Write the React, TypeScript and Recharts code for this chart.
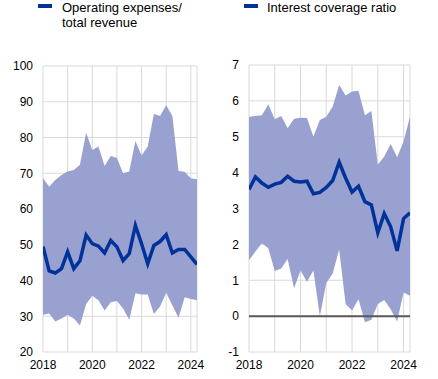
import React from 'react';
import {
  ComposedChart,
  Area,
  Line,
  XAxis,
  YAxis,
  CartesianGrid,
  ReferenceLine,
} from 'recharts';

// quarterly periods, 2018 Q1 - 2024 Q2
const quarters = [
  '2018Q1', '2018Q2', '2018Q3', '2018Q4',
  '2019Q1', '2019Q2', '2019Q3', '2019Q4',
  '2020Q1', '2020Q2', '2020Q3', '2020Q4',
  '2021Q1', '2021Q2', '2021Q3', '2021Q4',
  '2022Q1', '2022Q2', '2022Q3', '2022Q4',
  '2023Q1', '2023Q2', '2023Q3', '2023Q4',
  '2024Q1', '2024Q2',
];

// operating expenses / total revenue (%)
const opexMedian = [
  49.5, 42.7, 42.1, 43.3, 48.0, 43.3, 45.5, 52.7, 50.3, 49.6, 47.7, 51.2, 49.4,
  45.6, 47.5, 55.4, 50.3, 44.7, 49.8, 50.9, 52.8, 47.7, 48.7, 48.7, 46.6, 44.5,
];
const opexLow = [
  30.4, 30.8, 28.5, 29.4, 30.4, 29.4, 27.4, 33.4, 35.7, 34.5, 31.6, 33.9, 34.3,
  32.2, 29.0, 36.4, 36.1, 36.1, 30.6, 32.7, 36.6, 33.1, 29.6, 35.3, 34.8, 34.5,
];
const opexHigh = [
  68.6, 66.2, 68.1, 69.5, 70.5, 70.9, 72.4, 81.3, 76.5, 77.5, 72.0, 74.8, 74.3,
  70.0, 70.5, 79.0, 75.0, 77.5, 86.6, 86.0, 89.0, 86.0, 70.6, 70.4, 68.6, 68.3,
];

// interest coverage ratio
const icrMedian = [
  3.53, 3.88, 3.71, 3.59, 3.68, 3.73, 3.9, 3.76, 3.74, 3.76, 3.41, 3.45, 3.59,
  3.78, 4.29, 3.85, 3.46, 3.62, 3.19, 3.1, 2.32, 2.86, 2.49, 1.82, 2.72, 2.88,
];
const icrLow = [
  1.56, 1.8, 2.03, 1.89, 1.26, 1.33, 1.59, 0.78, 1.27, 0.96, 1.27, 0.0, 0.92,
  1.19, 1.86, 0.34, 0.16, 0.47, -0.17, -0.1, 0.34, 0.45, 0.19, -0.15, 0.66, 0.57,
];
const icrHigh = [
  5.56, 5.58, 5.6, 5.9, 5.49, 5.58, 5.24, 5.5, 5.53, 5.52, 5.0, 5.47, 5.56,
  5.84, 6.44, 6.15, 6.26, 6.28, 5.6, 5.72, 4.22, 4.45, 4.8, 4.43, 4.87, 5.56,
];

const yearTicks = [2018, 2019, 2020, 2021, 2022, 2023, 2024];
const yearLabels = [2018, 2020, 2022, 2024];
const opexTicks = [20, 30, 40, 50, 60, 70, 80, 90, 100];
const icrTicks = [-1, 0, 1, 2, 3, 4, 5, 6, 7];

const BLUE = '#003299';
const BAND = '#98a1d0';
const GRID = '#d9d9d9';
const FONT = '"Liberation Sans", Arial, sans-serif';

const toYear = (q: string) => Number(q.slice(0, 4)) + (Number(q.slice(5)) - 1) / 4;

const buildRows = (median: number[], low: number[], high: number[]) =>
  quarters.map((q, i) => ({
    t: toYear(q),
    median: median[i],
    band: [low[i], high[i]],
  }));

type PanelProps = {
  rows: { t: number; median: number; band: number[] }[];
  ticks: number[];
  yAxisWidth: number;
  marginTop: number;
  marginRight: number;
  zeroLine?: boolean;
};

const Panel: React.FC<PanelProps> = ({ rows, ticks, yAxisWidth, marginTop, marginRight, zeroLine }) => (
  <ComposedChart
    width={219}
    height={379}
    data={rows}
    margin={{ top: marginTop, right: marginRight, bottom: 7, left: 0 }}
  >
    <CartesianGrid stroke={GRID} strokeWidth={1} />
    <XAxis
      dataKey="t"
      type="number"
      domain={[2018, 2024.25]}
      ticks={yearTicks}
      interval={0}
      tickFormatter={(v: number) => (yearLabels.includes(v) ? String(v) : '')}
      axisLine={false}
      tickLine={false}
      height={20}
      tick={{ fill: '#000', fontSize: 12, fontFamily: FONT }}
      allowDataOverflow
    />
    <YAxis
      type="number"
      domain={[ticks[0], ticks[ticks.length - 1]]}
      ticks={ticks}
      interval={0}
      width={yAxisWidth}
      axisLine={false}
      tickLine={false}
      tickMargin={4}
      tick={{ fill: '#000', fontSize: 12, fontFamily: FONT }}
    />
    <Area
      dataKey="band"
      type="linear"
      stroke="none"
      fill={BAND}
      fillOpacity={1}
      isAnimationActive={false}
    />
    {zeroLine && <ReferenceLine y={0} stroke="#595959" strokeWidth={2} />}
    <Line
      dataKey="median"
      type="linear"
      stroke={BLUE}
      strokeWidth={3.5}
      dot={false}
      isAnimationActive={false}
    />
  </ComposedChart>
);

const legendText: React.CSSProperties = {
  position: 'absolute',
  top: 1,
  fontSize: 13,
  lineHeight: '14.5px',
  fontFamily: FONT,
  color: '#000',
};

const marker = (left: number): React.CSSProperties => ({
  position: 'absolute',
  left,
  top: 4,
  width: 14,
  height: 4,
  background: BLUE,
});

export default function App() {
  return (
    <div style={{ position: 'absolute', left: 0, top: 0, width: 438, height: 379, background: '#fff' }}>
      <div style={marker(38)} />
      <div style={{ ...legendText, left: 62 }}>
        Operating expenses/
        <br />
        total revenue
      </div>
      <div style={marker(244)} />
      <div style={{ ...legendText, left: 267 }}>Interest coverage ratio</div>

      <div style={{ position: 'absolute', left: 0, top: 0 }}>
        <Panel
          rows={buildRows(opexMedian, opexLow, opexHigh)}
          ticks={opexTicks}
          yAxisWidth={43}
          marginTop={66}
          marginRight={22}
        />
      </div>
      <div style={{ position: 'absolute', left: 219, top: 0 }}>
        <Panel
          rows={buildRows(icrMedian, icrLow, icrHigh)}
          ticks={icrTicks}
          yAxisWidth={30}
          marginTop={65}
          marginRight={28}
          zeroLine
        />
      </div>
    </div>
  );
}
